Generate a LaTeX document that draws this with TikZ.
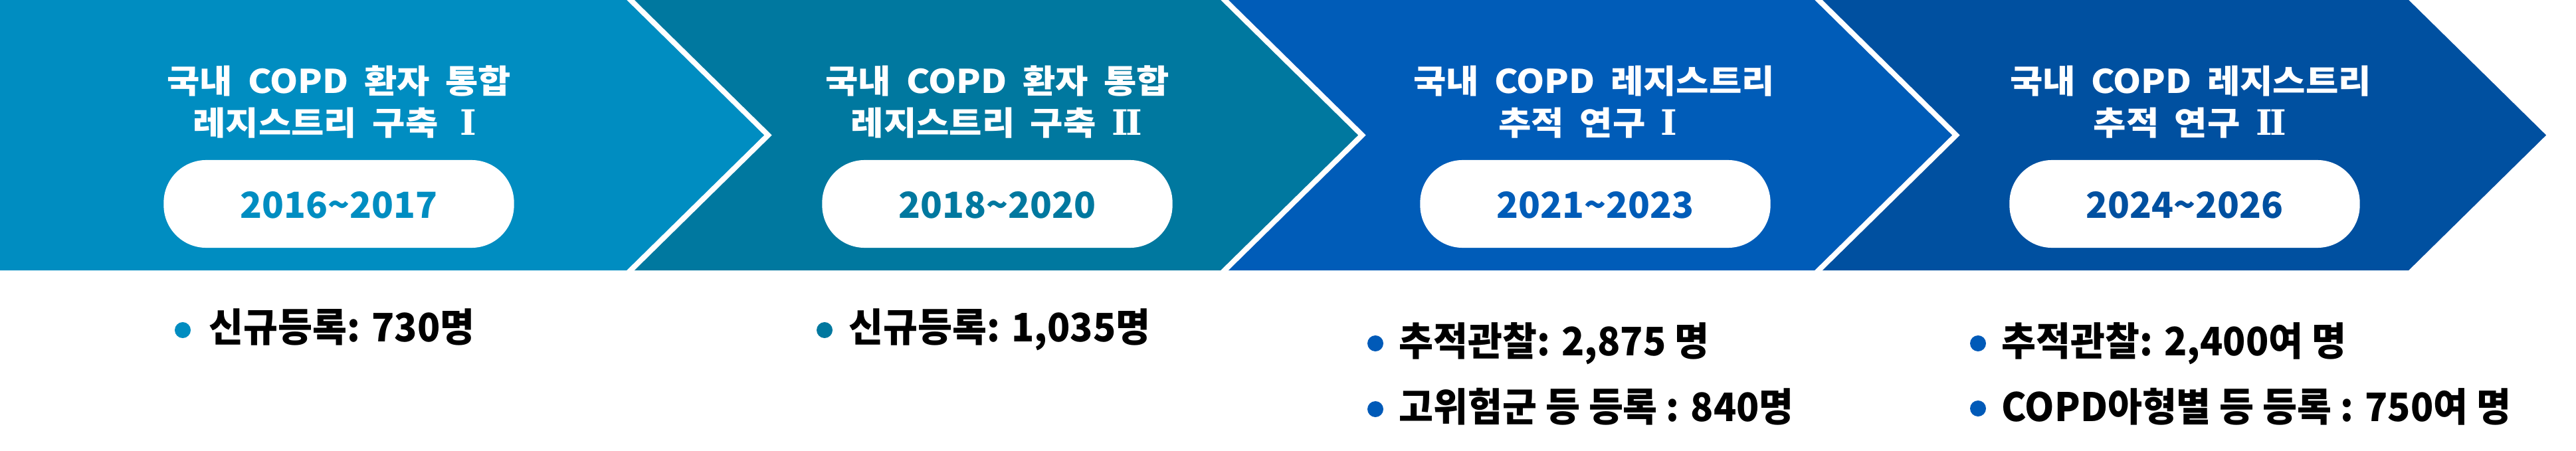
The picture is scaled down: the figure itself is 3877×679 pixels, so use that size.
\documentclass[tikz,border=0pt]{standalone}
\usepackage{fontspec}
\setmainfont{Noto Sans CJK KR}
\newfontfamily\ttlfont{Noto Sans CJK KR}[FakeStretch=1.09,WordSpace=1.9]
\newfontfamily\bulfont{Noto Sans CJK KR}[FakeStretch=0.955]
\newfontfamily\rnfont{DejaVu Serif}
\newcommand\rnI{{\rnfont\fontsize{15}{17}\selectfont\bfseries I}}
\newcommand\rnII{{\rnfont\fontsize{15}{17}\selectfont\bfseries I\kern-0.06em I}}
\definecolor{cA}{HTML}{008DC1}
\definecolor{cB}{HTML}{00789F}
\definecolor{cC}{HTML}{005CB8}
\definecolor{cD}{HTML}{0050A0}
\definecolor{dotC}{HTML}{005AB8}
\begin{document}
\begin{tikzpicture}[x=0.01cm,y=-0.01cm,
  sep/.style={draw=white,line width=0.08cm},
  ttl/.style={text=white,font=\ttlfont\fontsize{14}{17}\selectfont\bfseries,anchor=base,inner sep=0pt},
  pill/.style={fill=white,rounded corners=0.64cm,minimum width=5.27cm,minimum height=1.32cm,inner sep=0pt},
  yr/.style={font=\fontsize{15.4}{19}\selectfont\bfseries,anchor=base,inner sep=0pt},
  bdot/.style={circle,inner sep=0pt,minimum size=0.24cm},
  btxt/.style={font=\bulfont\fontsize{16.8}{19}\selectfont\bfseries,anchor=base west,inner sep=0pt,text=black}]
\useasboundingbox (0,0) rectangle (3877,679);
% chevrons
\fill[cA] (0,0)--(949,0)--(1156,203.5)--(949,407)--(0,407)--cycle;
\fill[cB] (949,0)--(1843,0)--(2050,203.5)--(1843,407)--(949,407)--(1156,203.5)--cycle;
\fill[cC] (1843,0)--(2737,0)--(2944,203.5)--(2737,407)--(1843,407)--(2050,203.5)--cycle;
\fill[cD] (2737,0)--(3631,0)--(3838,203.5)--(3631,407)--(2737,407)--(2944,203.5)--cycle;
\foreach \b in {949,1843,2737,3631}{
  \draw[sep] (\b-20.3,-20)--(\b+207,203.5)--(\b-20.3,427);
}
% titles
\node[ttl] (t1a) at (510,141) {국내 COPD 환자 통합};
\node[ttl] (t1b) at (504,204) {레지스트리 구축\hspace{0.1cm} \rnI};
\node[ttl] (t2a) at (1501,141) {국내 COPD 환자 통합};
\node[ttl] (t2b) at (1500,204) {레지스트리 구축 \rnII};
\node[ttl] (t3a) at (2399,141) {국내 COPD 레지스트리};
\node[ttl] (t3b) at (2390,204) {추적 연구 \rnI};
\node[ttl] (t4a) at (3297,141) {국내 COPD 레지스트리};
\node[ttl] (t4b) at (3296,204) {추적 연구 \rnII};
% pills
\node[pill] (p1) at (510,307) {};
\node[pill] (p2) at (1501,307) {};
\node[pill] (p3) at (2401,307) {};
\node[pill] (p4) at (3288,307) {};
\node[yr,text=cA] (y1) at (510,328) {2016\textasciitilde 2017};
\node[yr,text=cB] (y2) at (1501,328) {2018\textasciitilde 2020};
\node[yr,text=cC] (y3) at (2401,328) {2021\textasciitilde 2023};
\node[yr,text=cD] (y4) at (3288,328) {2024\textasciitilde 2026};
% bullets
\node[bdot,fill=cA] (d1) at (275,497) {};
\node[btxt] (b1) at (314,514) {신규등록: 730명};
\node[bdot,fill=cB] (d2) at (1241,497) {};
\node[btxt] (b2) at (1277,514) {신규등록: 1,035명};
\node[bdot,fill=dotC] (d3) at (2070,517) {};
\node[btxt] (b3) at (2105,535) {추적관찰: 2,875 명};
\node[bdot,fill=dotC] (d4) at (2070,616) {};
\node[btxt] (b4) at (2105,634) {고위험군 등 등록 : 840명};
\node[bdot,fill=dotC] (d5) at (2977,517) {};
\node[btxt] (b5) at (3012,535) {추적관찰: 2,400여 명};
\node[bdot,fill=dotC] (d6) at (2977,615) {};
\node[btxt] (b6) at (3012,634) {COPD아형별 등 등록 : 750여 명};
\end{tikzpicture}
\end{document}
